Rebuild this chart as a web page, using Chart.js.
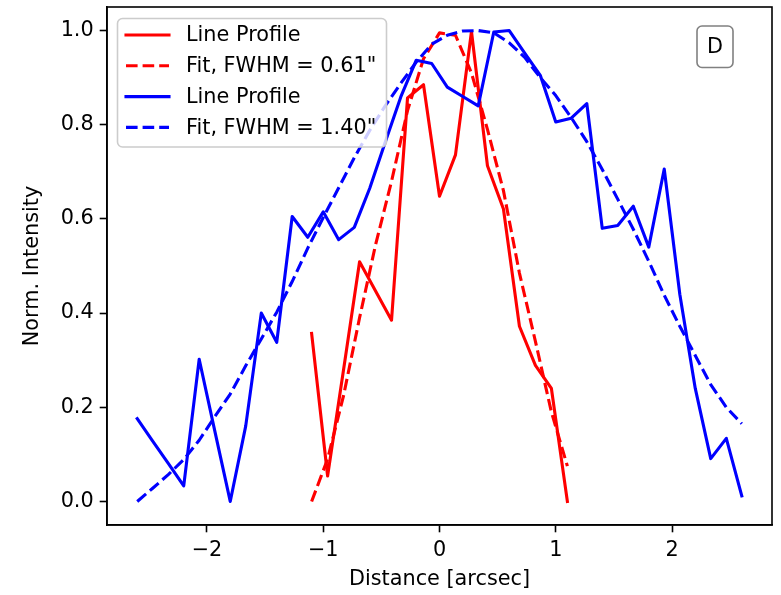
<!DOCTYPE html>
<html><head><meta charset="utf-8">
<script src="https://cdn.jsdelivr.net/npm/chart.js@4.4.1/dist/chart.umd.min.js"></script>
<style>html,body{margin:0;padding:0;background:#fff;} canvas{display:block;}</style>
</head><body>
<canvas id="c" width="781" height="595"></canvas>
<script>
// ---- data ----
const blueX = [-2.6, -2.467, -2.333, -2.2, -2.067, -1.933, -1.8, -1.667, -1.533, -1.4,
  -1.267, -1.133, -1.0, -0.867, -0.733, -0.6, -0.467, -0.333, -0.2, -0.067,
  0.067, 0.2, 0.333, 0.467, 0.6, 0.733, 0.867, 1.0, 1.133, 1.267,
  1.4, 1.533, 1.667, 1.8, 1.933, 2.067, 2.2, 2.333, 2.467, 2.6];
const blueProfile = [0.176, 0.128, 0.081, 0.033, 0.302, 0.15, 0.0, 0.16, 0.40, 0.338,
  0.605, 0.561, 0.615, 0.556, 0.582, 0.665, 0.763, 0.859, 0.937, 0.93,
  0.88, 0.86, 0.84, 0.997, 1.0, 0.952, 0.905, 0.806, 0.814, 0.845,
  0.58, 0.586, 0.627, 0.54, 0.706, 0.44, 0.24, 0.091, 0.134, 0.012];
const blueFit = [0.0, 0.028, 0.057, 0.089, 0.130, 0.180, 0.228, 0.288, 0.345, 0.402,
  0.467, 0.538, 0.603, 0.666, 0.730, 0.788, 0.840, 0.888, 0.933, 0.971,
  0.990, 0.999, 1.0, 0.995, 0.974, 0.943, 0.900, 0.862, 0.815, 0.764,
  0.705, 0.642, 0.578, 0.51, 0.438, 0.372, 0.31, 0.248, 0.2, 0.165];
const redX = [-1.1, -0.9625, -0.825, -0.6875, -0.55, -0.4125, -0.275, -0.1375, 0,
  0.1375, 0.275, 0.4125, 0.55, 0.6875, 0.825, 0.9625, 1.1];
const redProfile = [0.357, 0.054, 0.28, 0.509, 0.447, 0.385, 0.857, 0.885, 0.648,
  0.736, 0.998, 0.713, 0.621, 0.372, 0.289, 0.240, 0.0];
const redFit = [0.0, 0.09, 0.225, 0.39, 0.545, 0.68, 0.83, 0.94, 0.995,
  0.99, 0.91, 0.79, 0.66, 0.485, 0.34, 0.19, 0.075];
const xTicks = [-2, -1, 0, 1, 2];
const yTicks = [0.0, 0.2, 0.4, 0.6, 0.8, 1.0];
const seriesLabels = ['Line Profile', 'Fit, FWHM = 0.61"', 'Line Profile', 'Fit, FWHM = 1.40"'];
const panelLabel = 'D';
const xTitle = 'Distance [arcsec]';
const yTitle = 'Norm. Intensity';

const pts = (xs, ys) => xs.map((x, i) => ({x: x, y: ys[i]}));
const FONT = 'DejaVu Sans';
const FS = 20.8;
Chart.defaults.font.family = FONT;
Chart.defaults.font.size = FS;
Chart.defaults.color = '#000';

const LW = 3.1;
const DASH = [11.6, 5.0];

function roundRect(ctx, x, y, w, h, r) {
  ctx.beginPath();
  ctx.moveTo(x + r, y);
  ctx.lineTo(x + w - r, y);
  ctx.arcTo(x + w, y, x + w, y + r, r);
  ctx.lineTo(x + w, y + h - r);
  ctx.arcTo(x + w, y + h, x + w - r, y + h, r);
  ctx.lineTo(x + r, y + h);
  ctx.arcTo(x, y + h, x, y + h - r, r);
  ctx.lineTo(x, y + r);
  ctx.arcTo(x, y, x + r, y, r);
  ctx.closePath();
}

const decor = {
  id: 'decor',
  afterDatasetsDraw(chart) {
    const ctx = chart.ctx;
    const a = chart.chartArea;
    ctx.save();
    ctx.setLineDash([]);
    ctx.strokeStyle = '#000';
    ctx.lineWidth = 1.6;
    ctx.strokeRect(a.left, a.top, a.right - a.left, a.bottom - a.top);
    roundRect(ctx, 117.5, 18.5, 269, 128.5, 5);
    ctx.fillStyle = 'rgba(255,255,255,0.8)';
    ctx.fill();
    ctx.strokeStyle = '#cccccc';
    ctx.lineWidth = 1.6;
    ctx.stroke();
    chart.data.datasets.forEach((ds, i) => {
      const y = 35 + i * 30.8;
      ctx.beginPath();
      ctx.setLineDash(ds.borderDash || []);
      ctx.lineCap = ds.borderDash ? 'butt' : 'square';
      ctx.strokeStyle = ds.borderColor;
      ctx.lineWidth = LW;
      ctx.moveTo(126, y);
      ctx.lineTo(169, y);
      ctx.stroke();
      ctx.setLineDash([]);
      ctx.fillStyle = '#000';
      ctx.font = FS + 'px "' + FONT + '"';
      ctx.textAlign = 'left';
      ctx.textBaseline = 'middle';
      ctx.fillText(ds.label, 186, y + 1);
    });
    roundRect(ctx, 697, 26, 36, 41.5, 5);
    ctx.fillStyle = '#fff';
    ctx.fill();
    ctx.strokeStyle = '#808080';
    ctx.lineWidth = 1.6;
    ctx.stroke();
    ctx.fillStyle = '#000';
    ctx.textAlign = 'center';
    ctx.textBaseline = 'middle';
    ctx.font = FS + 'px "' + FONT + '"';
    ctx.fillText(panelLabel, 715, 47.5);
    ctx.restore();
  }
};

const common = {fill: false, pointRadius: 0, borderWidth: LW, tension: 0, borderJoinStyle: 'round'};

new Chart(document.getElementById('c'), {
  type: 'line',
  data: {
    datasets: [
      Object.assign({label: seriesLabels[0], data: pts(redX, redProfile), borderColor: '#ff0000', borderCapStyle: 'square', order: 4}, common),
      Object.assign({label: seriesLabels[1], data: pts(redX, redFit), borderColor: '#ff0000', borderDash: DASH, borderCapStyle: 'butt', order: 3}, common),
      Object.assign({label: seriesLabels[2], data: pts(blueX, blueProfile), borderColor: '#0000ff', borderCapStyle: 'square', order: 2}, common),
      Object.assign({label: seriesLabels[3], data: pts(blueX, blueFit), borderColor: '#0000ff', borderDash: DASH, borderCapStyle: 'butt', order: 1}, common)
    ]
  },
  options: {
    responsive: false,
    animation: false,
    events: [],
    layout: {padding: {top: 7, right: 9, left: 0, bottom: 0}},
    plugins: {legend: {display: false}, tooltip: {enabled: false}},
    scales: {
      x: {
        type: 'linear', min: -2.86, max: 2.86,
        afterBuildTicks: s => { s.ticks = xTicks.map(v => ({value: v})); },
        afterFit: s => { s.height = 70; s.paddingLeft = 0; s.paddingRight = 0; },
        ticks: {
          padding: 6, maxRotation: 0, autoSkip: false,
          font: {size: FS},
          callback: v => (v < 0 ? '\u2212' + Math.abs(v) : String(v))
        },
        grid: {display: true, drawOnChartArea: false, drawTicks: true, tickLength: 7.3, tickWidth: 1.6, tickColor: '#000'},
        border: {display: true, color: '#000', width: 1.6},
        title: {display: true, text: xTitle, font: {size: FS}, padding: {top: 0, bottom: 3}}
      },
      y: {
        type: 'linear', min: -0.05, max: 1.05,
        afterBuildTicks: s => { s.ticks = yTicks.map(v => ({value: v})); },
        afterFit: s => { s.width = 107; s.paddingTop = 0; s.paddingBottom = 0; },
        ticks: {
          padding: 6, autoSkip: false,
          font: {size: FS},
          callback: v => Number(v).toFixed(1)
        },
        grid: {display: true, drawOnChartArea: false, drawTicks: true, tickLength: 7.3, tickWidth: 1.6, tickColor: '#000'},
        border: {display: true, color: '#000', width: 1.6},
        title: {display: true, text: yTitle, font: {size: FS}, padding: {top: 20, bottom: 0}}
      }
    }
  },
  plugins: [decor]
});
</script>
</body></html>
